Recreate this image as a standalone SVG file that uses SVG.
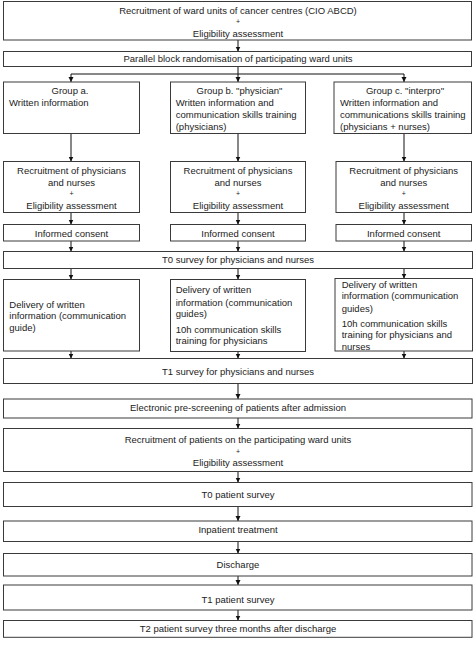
<svg xmlns="http://www.w3.org/2000/svg" width="474" height="651" viewBox="0 0 474 651">
<style>
.b{fill:#fff;stroke:#3a3a3a;stroke-width:1}
.t{font-family:"Liberation Sans",Arial,sans-serif;font-size:9.5px;fill:#222}
.c{text-anchor:middle}
.p{font-size:7px}
.ln{fill:none;stroke:#111;stroke-width:1}
</style>
<defs>
<marker id="ah" markerUnits="userSpaceOnUse" markerWidth="6" markerHeight="6" refX="5" refY="2.5" orient="auto">
<path d="M0,0 L5,2.5 L0,5 z" fill="#111"/>
</marker>
</defs>
<rect width="474" height="651" fill="#fff"/>
<g id="connectors">
<line class="ln" x1="238" y1="40" x2="238" y2="51.5" marker-end="url(#ah)"/>
<polyline class="ln" points="238,66.5 238,74"/>
<line class="ln" x1="71" y1="74" x2="404" y2="74"/>
<line class="ln" x1="71" y1="74" x2="71" y2="82" marker-end="url(#ah)"/>
<line class="ln" x1="238" y1="74" x2="238" y2="82" marker-end="url(#ah)"/>
<line class="ln" x1="404" y1="74" x2="404" y2="82" marker-end="url(#ah)"/>
<line class="ln" x1="71" y1="133.5" x2="71" y2="161.5" marker-end="url(#ah)"/>
<line class="ln" x1="238" y1="133.5" x2="238" y2="161.5" marker-end="url(#ah)"/>
<line class="ln" x1="404" y1="133.5" x2="404" y2="161.5" marker-end="url(#ah)"/>
<line class="ln" x1="71" y1="212.5" x2="71" y2="224.5" marker-end="url(#ah)"/>
<line class="ln" x1="238" y1="212.5" x2="238" y2="224.5" marker-end="url(#ah)"/>
<line class="ln" x1="404" y1="212.5" x2="404" y2="224.5" marker-end="url(#ah)"/>
<line class="ln" x1="71" y1="241" x2="71" y2="251.5" marker-end="url(#ah)"/>
<line class="ln" x1="238" y1="241" x2="238" y2="251.5" marker-end="url(#ah)"/>
<line class="ln" x1="404" y1="241" x2="404" y2="251.5" marker-end="url(#ah)"/>
<line class="ln" x1="71" y1="268.5" x2="71" y2="279.5" marker-end="url(#ah)"/>
<line class="ln" x1="238" y1="268.5" x2="238" y2="279.5" marker-end="url(#ah)"/>
<line class="ln" x1="404" y1="268.5" x2="404" y2="278.5" marker-end="url(#ah)"/>
<line class="ln" x1="71" y1="351" x2="71" y2="358.5" marker-end="url(#ah)"/>
<line class="ln" x1="238" y1="351.5" x2="238" y2="358.5" marker-end="url(#ah)"/>
<line class="ln" x1="404" y1="351" x2="404" y2="358.5" marker-end="url(#ah)"/>
<line class="ln" x1="238" y1="383.5" x2="238" y2="399" marker-end="url(#ah)"/>
<line class="ln" x1="238" y1="418" x2="238" y2="428.5" marker-end="url(#ah)"/>
<line class="ln" x1="238" y1="471.5" x2="238" y2="482.5" marker-end="url(#ah)"/>
<line class="ln" x1="238" y1="506.5" x2="238" y2="521" marker-end="url(#ah)"/>
<line class="ln" x1="238" y1="541.5" x2="238" y2="553.5" marker-end="url(#ah)"/>
<line class="ln" x1="238" y1="576" x2="238" y2="585" marker-end="url(#ah)"/>
<line class="ln" x1="238" y1="610" x2="238" y2="620.5" marker-end="url(#ah)"/>
</g>
<g id="n-recruit-wards">
<rect class="b" x="3.5" y="1.5" width="468" height="38.5"/>
<text class="t c" x="238" y="13.5">Recruitment of ward units of cancer centres (CIO ABCD)</text>
<text class="t c p" x="238" y="24">+</text>
<text class="t c" x="238" y="36.5">Eligibility assessment</text>
</g>
<g id="n-randomisation">
<rect class="b" x="3.5" y="51.5" width="468" height="15"/>
<text class="t c" x="238" y="62.3">Parallel block randomisation of participating ward units</text>
</g>
<g id="n-group-a">
<rect class="b" x="3.5" y="82" width="136" height="51.5"/>
<text class="t c" x="70" y="94">Group a.</text>
<text class="t" x="9" y="105.7">Written information</text>
</g>
<g id="n-group-b">
<rect class="b" x="170.5" y="82" width="135" height="51.5"/>
<text class="t c" x="239.5" y="94">Group b. "physician"</text>
<text class="t" x="175.7" y="105.7">Written information and</text>
<text class="t" x="175.7" y="118.4">communication  skills training</text>
<text class="t" x="175.7" y="130">(physicians)</text>
</g>
<g id="n-group-c">
<rect class="b" x="334" y="82" width="137.5" height="51.5"/>
<text class="t c" x="405" y="94">Group c. "interpro"</text>
<text class="t" x="340" y="105.7">Written information and</text>
<text class="t" x="340" y="118.4">communications  skills training</text>
<text class="t" x="340" y="130">(physicians + nurses)</text>
</g>
<g id="n-recruit-staff-a">
<rect class="b" x="3.5" y="161.5" width="136" height="51"/>
<text class="t c" x="71.5" y="174.4">Recruitment of physicians</text>
<text class="t c" x="71.5" y="186.1">and nurses</text>
<text class="t c p" x="71.5" y="195.8">+</text>
<text class="t c" x="71.5" y="209.1">Eligibility assessment</text>
</g>
<g id="n-recruit-staff-b">
<rect class="b" x="170.5" y="161.5" width="135" height="51"/>
<text class="t c" x="238" y="174.4">Recruitment of physicians</text>
<text class="t c" x="238" y="186.1">and nurses</text>
<text class="t c p" x="238" y="195.8">+</text>
<text class="t c" x="238" y="209.1">Eligibility assessment</text>
</g>
<g id="n-recruit-staff-c">
<rect class="b" x="336" y="161.5" width="135.5" height="51"/>
<text class="t c" x="403.7" y="174.4">Recruitment of physicians</text>
<text class="t c" x="403.7" y="186.1">and nurses</text>
<text class="t c p" x="403.7" y="195.8">+</text>
<text class="t c" x="403.7" y="209.1">Eligibility assessment</text>
</g>
<g id="n-consent-a">
<rect class="b" x="3.5" y="224.5" width="136" height="16.5"/>
<text class="t c" x="71.5" y="236.5">Informed consent</text>
</g>
<g id="n-consent-b">
<rect class="b" x="170.5" y="224.5" width="135" height="16.5"/>
<text class="t c" x="238" y="236.5">Informed consent</text>
</g>
<g id="n-consent-c">
<rect class="b" x="336" y="224.5" width="135.5" height="16.5"/>
<text class="t c" x="403.7" y="236.5">Informed consent</text>
</g>
<g id="n-t0-staff">
<rect class="b" x="3.5" y="251.5" width="469" height="17"/>
<text class="t c" x="238" y="263.3">T0 survey for physicians and nurses</text>
</g>
<g id="n-delivery-a">
<rect class="b" x="3.5" y="279.5" width="136" height="71.5"/>
<text class="t" x="9.3" y="307.6">Delivery of written</text>
<text class="t" x="9.3" y="319">information (communication</text>
<text class="t" x="9.3" y="330.6">guide)</text>
</g>
<g id="n-delivery-b">
<rect class="b" x="170.5" y="279.5" width="135" height="72"/>
<text class="t" x="175.7" y="293.3">Delivery of written</text>
<text class="t" x="175.7" y="305.6">information (communication</text>
<text class="t" x="175.7" y="316.6">guides)</text>
<text class="t" x="175.7" y="332.6">10h communication skills</text>
<text class="t" x="175.7" y="344.3">training for physicians</text>
</g>
<g id="n-delivery-c">
<rect class="b" x="335" y="278.5" width="137.5" height="72.5"/>
<text class="t" x="341.7" y="288.3">Delivery of written</text>
<text class="t" x="341.7" y="299.3">information (communication</text>
<text class="t" x="341.7" y="311.6">guides)</text>
<text class="t" x="341.7" y="326.6">10h communication skills</text>
<text class="t" x="341.7" y="338.3">training for physicians and</text>
<text class="t" x="341.7" y="350">nurses</text>
</g>
<g id="n-t1-staff">
<rect class="b" x="3.5" y="358.5" width="469" height="25"/>
<text class="t c" x="238" y="375">T1 survey for physicians and nurses</text>
</g>
<g id="n-prescreening">
<rect class="b" x="3.5" y="399" width="468.5" height="19"/>
<text class="t c" x="238" y="411">Electronic pre-screening of patients after admission</text>
</g>
<g id="n-recruit-patients">
<rect class="b" x="3.5" y="428.5" width="468.5" height="43"/>
<text class="t c" x="238" y="443.3">Recruitment of patients on the participating ward units</text>
<text class="t c p" x="238" y="453.5">+</text>
<text class="t c" x="238" y="465.6">Eligibility assessment</text>
</g>
<g id="n-t0-patient">
<rect class="b" x="3.5" y="482.5" width="468.5" height="24"/>
<text class="t c" x="238" y="498.3">T0 patient survey</text>
</g>
<g id="n-inpatient">
<rect class="b" x="3.5" y="521" width="468.5" height="20.5"/>
<text class="t c" x="238" y="533.3">Inpatient treatment</text>
</g>
<g id="n-discharge">
<rect class="b" x="3.5" y="553.5" width="468.5" height="22.5"/>
<text class="t c" x="238" y="568.3">Discharge</text>
</g>
<g id="n-t1-patient">
<rect class="b" x="3.5" y="585" width="468.5" height="25"/>
<text class="t c" x="238" y="603.3">T1 patient survey</text>
</g>
<g id="n-t2-patient">
<rect class="b" x="3.5" y="620.5" width="468.5" height="16.8"/>
<text class="t c" x="238" y="631.6">T2 patient survey three months after discharge</text>
</g>
</svg>
